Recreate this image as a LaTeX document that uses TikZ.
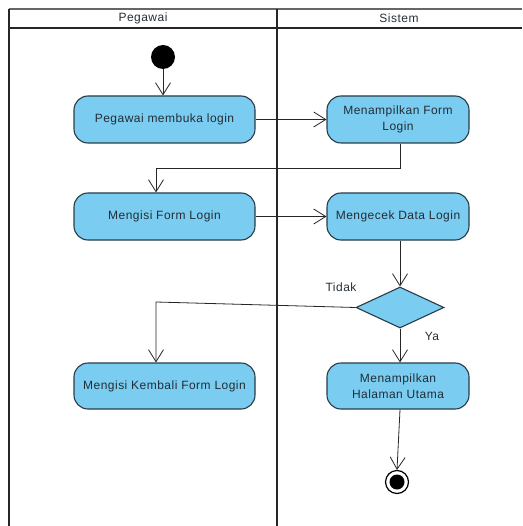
\documentclass[tikz,border=0pt]{standalone}
\usepackage{fontspec}
\setmainfont{Liberation Sans}[LetterSpace=4]
\usetikzlibrary{arrows.meta,shapes.geometric}
\definecolor{actfill}{RGB}{122,204,240}
\definecolor{actedge}{RGB}{40,60,72}
\definecolor{txt}{RGB}{35,45,55}
\tikzset{
  act/.style={draw=actedge, line width=1.1pt, fill=actfill, rounded corners=14pt,
    align=center, text=txt, font=\fontsize{12}{16}\selectfont, inner sep=0pt},
  flow/.style={draw=black!85, line width=0.8pt,
    -{Straight Barb[length=12pt,width=15pt,line width=0.8pt]}},
  lane/.style={line width=1.8pt, draw=black!85},
  lbl/.style={font=\fontsize{12}{14}\selectfont, text=txt, inner sep=0pt}
}
\begin{document}
\begin{tikzpicture}[x=1pt,y=-1pt]
\useasboundingbox (0,0) rectangle (522,526);
% swimlane frame
\draw[line width=1.2pt, draw=black!60] (9,9) -- (522,9);
\draw[lane] (9,28) -- (522,28);
\draw[lane] (9,9) -- (9,526);
\draw[lane] (277,9) -- (277,526);
\node[lbl] (laneA) at (143,18.5) {Pegawai};
\node[lbl] (laneB) at (399,18.5) {Sistem};
% start and end
\node[circle, fill=black, minimum size=24pt, inner sep=0pt] (start) at (163,57) {};
\node[circle, draw=black, line width=1.2pt, minimum size=23pt, inner sep=0pt] (endo) at (397,482) {};
\node[circle, fill=black, minimum size=15pt, inner sep=0pt] (endi) at (397,482) {};
% activities
\node[act, minimum width=181pt, minimum height=47pt] (a1) at (164.5,119.5) {Pegawai membuka login};
\node[act, minimum width=142pt, minimum height=47pt] (a2) at (398,119.5) {Menampilkan Form\\Login};
\node[act, minimum width=181pt, minimum height=47pt] (a3) at (164.5,216.5) {Mengisi Form Login};
\node[act, minimum width=142pt, minimum height=47pt] (a4) at (398,216.5) {Mengecek Data Login};
\node[draw=actedge, line width=1.1pt, fill=actfill, diamond, minimum width=88pt, minimum height=41pt, inner sep=0pt] (dec) at (400,307.5) {};
\node[act, minimum width=181pt, minimum height=46pt] (a5) at (164.5,386) {Mengisi Kembali Form Login};
\node[act, minimum width=142pt, minimum height=46pt] (a6) at (398,386) {Menampilkan\\Halaman Utama};
\node[lbl, anchor=base] (tidak) at (341,291) {Tidak};
\node[lbl, anchor=base] (ya) at (432,340) {Ya};
% connectors
\coordinate (c1) at (400,168);
\coordinate (c2) at (156,168);
\coordinate (c3) at (156,302);
\draw[flow] (start) -- (a1.north -| start);
\draw[flow] (a1) -- (a2);
\draw[flow] (a2.south -| c1) -- (c1) -- (c2) -- (a3.north -| c2);
\draw[flow] (a3) -- (a4);
\draw[flow] (a4.south -| dec) -- (dec.north);
\draw[flow] (dec.west) -- (c3) -- (a5.north -| c3);
\draw[flow] (dec.south) -- (a6.north -| dec);
\draw[flow] (a6.south -| dec) -- (endo.north);
\end{tikzpicture}
\end{document}
